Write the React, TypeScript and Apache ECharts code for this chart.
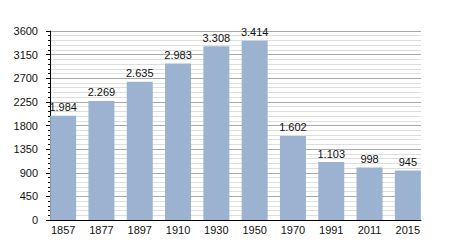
import React, { useEffect, useRef } from "react";
import * as echarts from "echarts";

const years = ["1857", "1877", "1897", "1910", "1930", "1950", "1970", "1991", "2011", "2015"];
const population = [1984, 2269, 2635, 2983, 3308, 3414, 1602, 1103, 998, 945];
const yMin = 0;
const yMax = 3600;
const yStep = 450;

const fmt = (n: number) => String(n).replace(/\B(?=(\d{3})+(?!\d))/g, ".");

export default function App() {
  const ref = useRef<HTMLDivElement>(null);
  useEffect(() => {
    if (!ref.current) return;
    const chart = echarts.init(ref.current, undefined, { renderer: "svg" });
    const font = "Liberation Sans, Arial, sans-serif";
    chart.setOption({
      animation: false,
      backgroundColor: "#ffffff",
      textStyle: { fontFamily: font },
      grid: [
        { left: 44, right: 23, top: 31, bottom: 30 },
        { left: 50, right: 29, top: 31, bottom: 30 },
      ],
      xAxis: [
        {
          type: "category",
          gridIndex: 0,
          data: years,
          axisLine: { show: false },
          axisTick: { show: false },
          axisLabel: { color: "#111", fontSize: 11, margin: 4, fontFamily: font },
        },
        {
          type: "category",
          gridIndex: 1,
          data: years,
          axisLine: { show: true, lineStyle: { color: "#000", width: 1 } },
          axisTick: { show: false },
          axisLabel: { show: false },
          splitLine: { show: false },
        },
      ],
      yAxis: [
        {
          type: "value",
          gridIndex: 0,
          min: yMin,
          max: yMax,
          interval: yStep,
          show: false,
          splitLine: { show: false },
        },
        {
          type: "value",
          gridIndex: 1,
          min: yMin,
          max: yMax,
          interval: yStep,
          axisLine: { show: true, lineStyle: { color: "#000", width: 1 } },
          axisTick: { show: true, length: 4, lineStyle: { color: "#000" } },
          minorTick: { show: true, splitNumber: 5, length: 2, lineStyle: { color: "#000" } },
          axisLabel: {
            color: "#111",
            fontSize: 11,
            margin: 12,
            fontFamily: font,
            formatter: (v: number) => String(v),
          },
          splitLine: { show: true, lineStyle: { color: "#a8a8a8", width: 1 } },
          minorSplitLine: { show: true, lineStyle: { color: "#dedede", width: 1 } },
        },
      ],
      series: [
        {
          type: "bar",
          xAxisIndex: 0,
          yAxisIndex: 0,
          data: population,
          barWidth: 26,
          itemStyle: { color: "#9bb3d1" },
          label: {
            show: true,
            position: "top",
            distance: 3,
            color: "#111",
            fontSize: 11,
            fontFamily: font,
            formatter: (p: any) => fmt(p.value),
          },
        },
      ],
    });
    return () => chart.dispose();
  }, []);
  return (
    <div
      ref={ref}
      style={{ position: "fixed", left: 0, top: 0, width: 450, height: 250 }}
    />
  );
}
